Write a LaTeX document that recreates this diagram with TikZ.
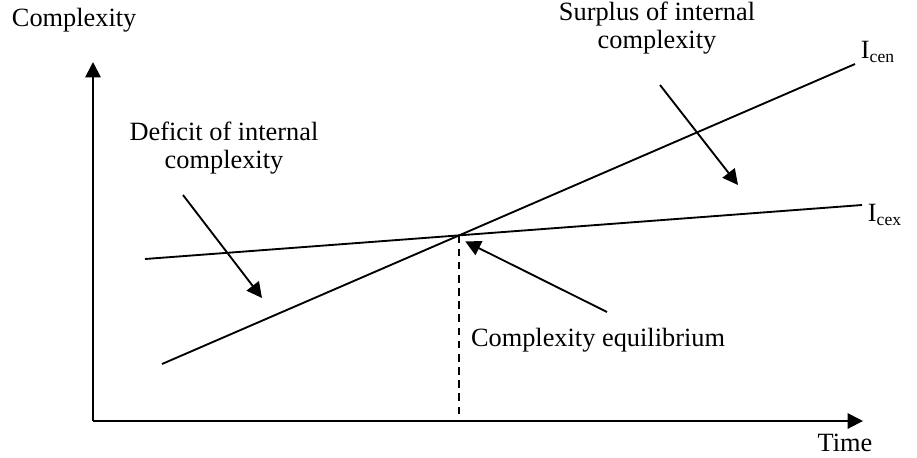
\documentclass[tikz,border=0pt]{standalone}
\usepackage{fontspec}
\setmainfont{Liberation Serif}
\usetikzlibrary{arrows.meta,calc}

\begin{document}
\begin{tikzpicture}[x=0.016cm,y=-0.016cm,line width=0.85pt,
    every node/.style={font=\fontsize{12}{12.6}\selectfont,align=center,inner sep=0pt},
    axis/.style={-{Triangle[length=7pt,width=7pt]}},
    pointer/.style={-{Triangle[length=7pt,width=7pt]}}]
    \useasboundingbox (0,0) rectangle (917,457);

    % axes
    \coordinate (o) at (93,421);
    \coordinate (yT) at (93,62);
    \coordinate (xT) at (863,421);
    \draw[axis](o)--(yT);
    \draw[axis](o)--(xT);
    \node[anchor=west] (ylab) at (11,20) {Complexity};
    \node (xlab) at (845,443) {Time};

    % the two lines
    \coordinate (cenA) at (162,364);
    \coordinate (cenB) at (855,64);
    \coordinate (cexA) at (145,259);
    \coordinate (cexB) at (862,205);
    \draw(cenA)--(cenB);
    \draw(cexA)--(cexB);
    \node[anchor=west] (cen) at ($(cenB)+(5,-12)$) {I\textsubscript{cen}};
    \node[anchor=west] (cex) at ($(cexB)+(5,10)$) {I\textsubscript{cex}};

    \coordinate (eq) at (intersection of cenA--cenB and cexA--cexB);
    \draw[dashed,dash pattern=on 3.5pt off 2.5pt](eq)--(eq|-o);

    % labels with pointers
    \node (sur) at (657,28) {Surplus of internal\\complexity};
    \node (def) at (224,148) {Deficit of internal\\complexity};
    \node (eqlab) at (598,340) {Complexity equilibrium};

    \coordinate (surA) at (660,85);
    \coordinate (surB) at (738,185);
    \coordinate (defA) at (183,195);
    \coordinate (defB) at (262,298);
    \coordinate (eqA) at (607,312);
    \coordinate (eqB) at ($(eq)+(6,6)$);
    \draw[pointer](surA)--(surB);
    \draw[pointer](defA)--(defB);
    \draw[pointer](eqA)--(eqB);
\end{tikzpicture}
\end{document}
